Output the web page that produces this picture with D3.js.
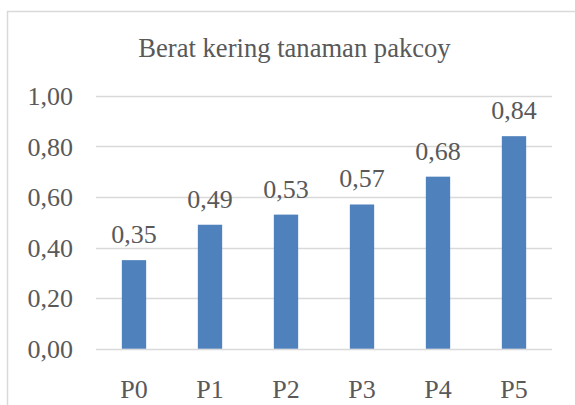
<!DOCTYPE html>
<html>
<head>
<meta charset="utf-8">
<script src="https://cdn.jsdelivr.net/npm/d3@7"></script>
</head>
<body style="margin:0;padding:0;background:#fff">
<svg id="chart" width="575" height="405"></svg>
<script>
const categories = ["P0", "P1", "P2", "P3", "P4", "P5"];
const values = [0.35, 0.49, 0.53, 0.57, 0.68, 0.84];
const yTicks = [0, 0.2, 0.4, 0.6, 0.8, 1.0];
const title = "Berat kering tanaman pakcoy";

const TXT = "#595959";
const svg = d3.select("#chart");
const W = 575, H = 405;
const plot = { left: 96, right: 552, top: 95.7, bottom: 348.7 };

const fmt = v => d3.format(".2f")(v).replace(".", ",");

function styleText(sel, size) {
  sel.attr("font-size", size || 26).attr("fill", TXT).style("font-family", '"Liberation Serif"');
}

// chart border
svg.append("rect")
  .attr("x", 7.5).attr("y", 11.5)
  .attr("width", W + 20).attr("height", H + 20)
  .attr("fill", "#fff").attr("stroke", "#d9d9d9").attr("stroke-width", 1.5);

const x = d3.scaleBand().domain(categories).range([plot.left, plot.right]).paddingInner(0.68).paddingOuter(0.34);
const y = d3.scaleLinear().domain([0, 1]).range([plot.bottom, plot.top]);

// gridlines
svg.append("g").selectAll("line").data(yTicks).join("line")
  .attr("x1", plot.left).attr("x2", plot.right)
  .attr("y1", d => Math.round(y(d)) + 0.5).attr("y2", d => Math.round(y(d)) + 0.5)
  .attr("stroke", "#d9d9d9").attr("stroke-width", 1.5);

// y axis labels
const yAxis = d3.axisLeft(y).tickValues(yTicks).tickFormat(fmt).tickSize(0).tickPadding(0);
const gy = svg.append("g").attr("transform", `translate(73,0)`).call(yAxis);
gy.select(".domain").remove();
gy.attr("font-family", "Liberation Serif").attr("font-size", 26);
gy.selectAll("text").call(styleText, 26).attr("dy", "0.34em");

// bars
svg.append("g").selectAll("rect").data(values).join("rect")
  .attr("x", (d, i) => x(categories[i]))
  .attr("y", d => y(d))
  .attr("width", x.bandwidth())
  .attr("height", d => y(0) - y(d))
  .attr("fill", "#4f81bd");

// data labels
svg.append("g").selectAll("text").data(values).join("text")
  .attr("x", (d, i) => x(categories[i]) + x.bandwidth() / 2)
  .attr("y", d => y(d) - 17)
  .attr("text-anchor", "middle")
  .call(styleText, 26)
  .text(d => fmt(d));

// x axis labels
const xAxis = d3.axisBottom(x).tickSize(0).tickPadding(0);
const gx = svg.append("g").attr("transform", `translate(0,${plot.bottom})`).call(xAxis);
gx.select(".domain").remove();
gx.attr("font-family", "Liberation Serif").attr("font-size", 26);
gx.selectAll("text").call(styleText, 26)
  .attr("y", 0).attr("dy", 49.5);

// title
svg.append("text")
  .attr("x", 294.5).attr("y", 56.7)
  .attr("text-anchor", "middle")
  .call(styleText, 26.6)
  .text(title);
</script>
</body>
</html>
